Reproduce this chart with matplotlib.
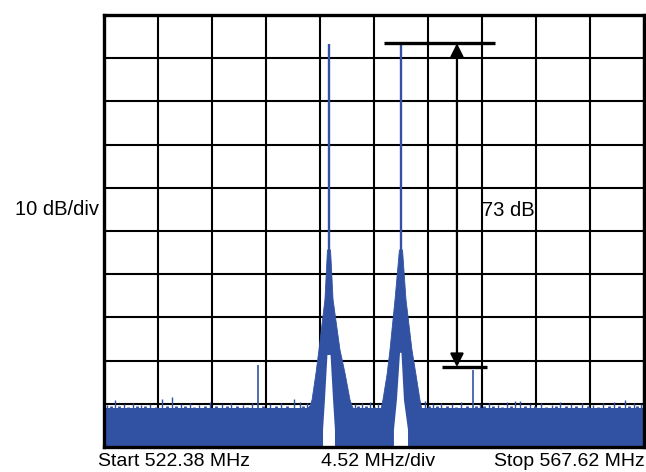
import numpy as np
import matplotlib
matplotlib.use("Agg")
import matplotlib.pyplot as plt

plt.rcParams['font.family'] = ['Liberation Sans', 'DejaVu Sans']

BLUE = '#3151a3'

# span and scale
start_mhz = 522.38
stop_mhz = 567.62
ref_db = 0.0
bottom_db = -100.0

# two tones
tone_mhz = [541.23, 547.26]
tone_db = [-6.6, -6.6]
tone_neck_db = -54.4   # where the narrow spike widens into the skirt

# skirt outline per tone: offset from tone (MHz), level (dB)
skirt1_off = [-1.93, -1.59, -1.42, -1.09, -0.84, -0.34, -0.13, 0.13, 0.34, 0.92, 1.34, 1.76, 1.93, 2.09]
skirt1_db = [-91.4, -90.5, -89.1, -82.9, -77.5, -65.9, -54.4, -54.4, -65.9, -77.5, -82.9, -89.1, -90.5, -91.4]
skirt2_off = [-1.68, -1.51, -1.17, -0.92, -0.50, -0.13, 0.13, 0.42, 0.92, 1.26, 1.59, 1.76]
skirt2_db = [-91.4, -89.1, -83.3, -77.5, -65.9, -54.4, -54.4, -65.9, -77.5, -83.3, -89.1, -91.4]

# white gap under each tone (trace minimum rises there)
gap1_off = [-0.50, -0.50, -0.34, -0.13, 0.13, 0.34, 0.50, 0.50]
gap1_db = [-100.0, -96.1, -89.1, -78.7, -78.7, -89.1, -96.1, -100.0]
gap2_off = [-0.59, -0.59, -0.34, -0.08, 0.04, 0.25, 0.59, 0.59]
gap2_db = [-100.0, -96.1, -89.1, -78.2, -78.2, -89.1, -96.1, -100.0]

# noise floor and the small ripples sticking out of it
floor_db = -91.0
ripple_mhz = [522.63, 523.30, 524.05, 524.81, 525.48, 526.23, 527.24, 528.08, 528.83,
              529.58, 530.34, 531.26, 532.27, 533.02, 534.02, 534.78, 536.29, 537.21,
              538.30, 538.80, 539.39, 543.41, 544.00, 544.67, 545.34, 549.27, 549.94,
              550.61, 551.54, 552.29, 553.88, 554.64, 555.39, 556.14, 556.81, 557.23,
              558.07, 558.99, 559.91, 560.58, 561.50, 562.43, 563.35, 564.19, 565.11,
              566.03, 566.78, 567.37]
ripple_db = [-90.3, -89.1, -90.0, -89.8, -90.3, -90.0, -88.9, -88.4, -90.0,
             -89.8, -90.3, -89.6, -90.0, -89.8, -90.3, -89.8, -90.0, -89.8,
             -88.9, -89.6, -89.8, -90.0, -89.8, -89.6, -90.0, -89.35, -90.0,
             -89.8, -90.0, -89.6, -90.0, -89.8, -90.3, -89.6, -89.35, -89.35,
             -90.0, -89.8, -90.3, -89.6, -90.0, -89.8, -90.3, -89.8, -89.6,
             -89.1, -89.8, -90.0]
# lower, denser fuzz between them
fuzz_mhz = [522.95, 523.65, 524.40, 525.15, 525.85, 526.70, 527.65, 528.45, 529.20,
            529.95, 530.80, 531.75, 532.65, 533.50, 534.40, 535.70, 536.75, 537.75,
            539.05, 543.70, 544.35, 545.00, 549.60, 550.30, 551.10, 551.90, 552.80,
            553.55, 554.25, 555.00, 555.75, 556.45, 557.65, 558.50, 559.45, 560.25,
            561.05, 561.95, 562.90, 563.75, 564.65, 565.55, 566.40, 567.05]
fuzz_db = [-90.6, -90.4, -90.7, -90.5, -90.4, -90.7, -90.5, -90.6, -90.4,
           -90.7, -90.5, -90.4, -90.6, -90.5, -90.7, -90.4, -90.6, -90.5,
           -90.4, -90.6, -90.5, -90.7, -90.4, -90.6, -90.5, -90.7, -90.4,
           -90.6, -90.5, -90.4, -90.7, -90.5, -90.6, -90.4, -90.7, -90.5,
           -90.6, -90.4, -90.5, -90.7, -90.4, -90.6, -90.5, -90.6]

# spurs
spur_mhz = [535.28, 553.27]
spur_db = [-81.0, -82.2]

# delta marker
marker_mhz = 551.95
marker_top_db = -6.55
marker_bot_db = -81.5
marker_top_span = [545.84, 555.14]
marker_bot_span = [550.70, 554.47]

fig = plt.figure(figsize=(6.46, 4.72), dpi=100)
ax = fig.add_axes([104 / 646, 1 - 447 / 472, 540 / 646, 432 / 472])

ax.set_xlim(start_mhz, stop_mhz)
ax.set_ylim(bottom_db, ref_db)
ax.set_xticks(np.linspace(start_mhz, stop_mhz, 11))
ax.set_yticks(np.linspace(bottom_db, ref_db, 11))
ax.tick_params(length=0, labelbottom=False, labelleft=False)
ax.grid(True, color='black', linewidth=1.5, zorder=0)
ax.set_axisbelow(True)
for s in ax.spines.values():
    s.set_linewidth(2.4)
    s.set_zorder(6)

# noise floor
ax.fill_between([start_mhz, stop_mhz], bottom_db, floor_db, color=BLUE, lw=0, zorder=2)
ax.vlines(fuzz_mhz, floor_db - 0.5, fuzz_db, color=BLUE, lw=2.0, zorder=2)
ax.vlines(ripple_mhz, floor_db - 0.5, ripple_db, color=BLUE, lw=1.0, zorder=2)
ax.vlines(spur_mhz, floor_db, spur_db, color=BLUE, lw=1.2, zorder=2)

# tones
for f, off, lev, goff, glev in [(tone_mhz[0], skirt1_off, skirt1_db, gap1_off, gap1_db),
                                (tone_mhz[1], skirt2_off, skirt2_db, gap2_off, gap2_db)]:
    xs = [f + o for o in off]
    ax.fill(xs + [xs[-1], xs[0]], lev + [bottom_db, bottom_db], color=BLUE, lw=0.6,
            ec=BLUE, zorder=3)
    ax.fill([f + o for o in goff], glev, color='white', lw=0, zorder=4)
ax.vlines(tone_mhz, tone_neck_db, tone_db, color=BLUE, lw=1.7, zorder=3)

# delta marker
ax.hlines(marker_top_db, *marker_top_span, color='black', lw=2.4, zorder=5)
ax.hlines(marker_bot_db, *marker_bot_span, color='black', lw=2.4, zorder=5)
ax.annotate('', xy=(marker_mhz, marker_top_db), xytext=(marker_mhz, marker_bot_db),
            arrowprops=dict(arrowstyle='<|-|>', color='black', lw=1.6,
                            mutation_scale=20, shrinkA=0, shrinkB=0), zorder=5)

fig.text(99 / 646, 1 - 210 / 472, '10 dB/div', ha='right', va='center', fontsize=14.5)
fig.text(482 / 646, 1 - 211 / 472, '73 dB', ha='left', va='center', fontsize=14.5)
fig.text(98 / 646, 0.012, 'Start 522.38 MHz', ha='left', va='baseline', fontsize=14)
fig.text(378 / 646, 0.012, '4.52 MHz/div', ha='center', va='baseline', fontsize=14)
fig.text(645 / 646, 0.012, 'Stop 567.62 MHz', ha='right', va='baseline', fontsize=14)

fig.savefig('out.png', dpi=100)
